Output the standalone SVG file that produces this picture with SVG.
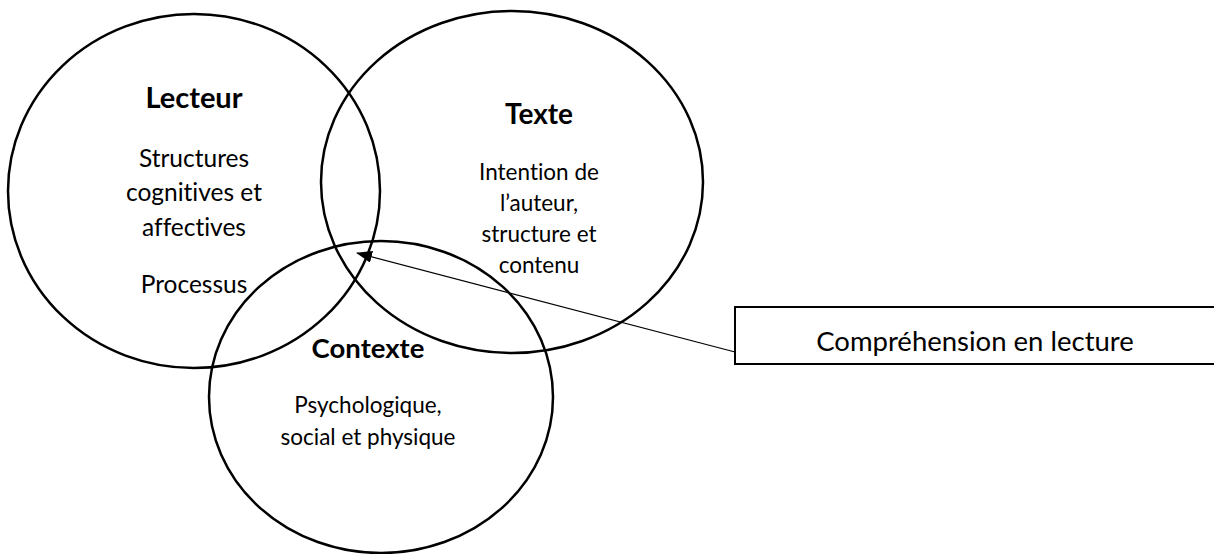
<svg xmlns="http://www.w3.org/2000/svg" width="1214" height="554" viewBox="0 0 1214 554">
  <style>
    .ring { fill: none; stroke: #000; stroke-width: 2.5; }
    .box { fill: #fff; stroke: #000; stroke-width: 2; }
    text { font-family: Lato, "Liberation Sans", sans-serif; fill: #000; text-anchor: middle; font-variant-ligatures: none; }
    .title { font-weight: bold; font-size: 29px; }
    .body { font-size: 24.5px; }
    .small { font-size: 22.5px; }
    .label { font-size: 27.5px; }
    .link { stroke: #000; stroke-width: 1.2; fill: none; }
  </style>
  <defs>
    <marker id="arrowhead" markerWidth="16" markerHeight="12" refX="15" refY="6" orient="auto" markerUnits="userSpaceOnUse">
      <path d="M0,0 L16,6 L0,12 Z" fill="#000"/>
    </marker>
  </defs>
  <rect width="1214" height="554" fill="#fff"/>

  <g id="lecteur">
    <ellipse class="ring" cx="194" cy="191" rx="186" ry="177"/>
    <text class="title" x="194" y="108">Lecteur</text>
    <text class="body" x="194" y="167">Structures</text>
    <text class="body" x="194" y="201">cognitives et</text>
    <text class="body" x="194" y="236">affectives</text>
    <text class="body" x="194" y="293">Processus</text>
  </g>

  <g id="texte">
    <ellipse class="ring" cx="512" cy="182" rx="191" ry="171"/>
    <text class="title" x="539" y="124" style="font-size:28px">Texte</text>
    <text class="small" x="539" y="180">Intention de</text>
    <text class="small" x="539" y="211">l’auteur,</text>
    <text class="small" x="539" y="242">structure et</text>
    <text class="small" x="539" y="273">contenu</text>
  </g>

  <g id="contexte">
    <ellipse class="ring" cx="381" cy="397" rx="172" ry="156"/>
    <text class="title" x="368" y="358" style="font-size:27.5px">Contexte</text>
    <text class="small" x="368" y="413">Psychologique,</text>
    <text class="small" x="368" y="445">social et physique</text>
  </g>

  <g id="comprehension">
    <rect class="box" x="735" y="307" width="480" height="57"/>
    <text class="label" x="975" y="351">Compréhension en lecture</text>
  </g>

  <g id="connectors">
    <line class="link" x1="735" y1="352" x2="357" y2="253" marker-end="url(#arrowhead)"/>
  </g>
</svg>
